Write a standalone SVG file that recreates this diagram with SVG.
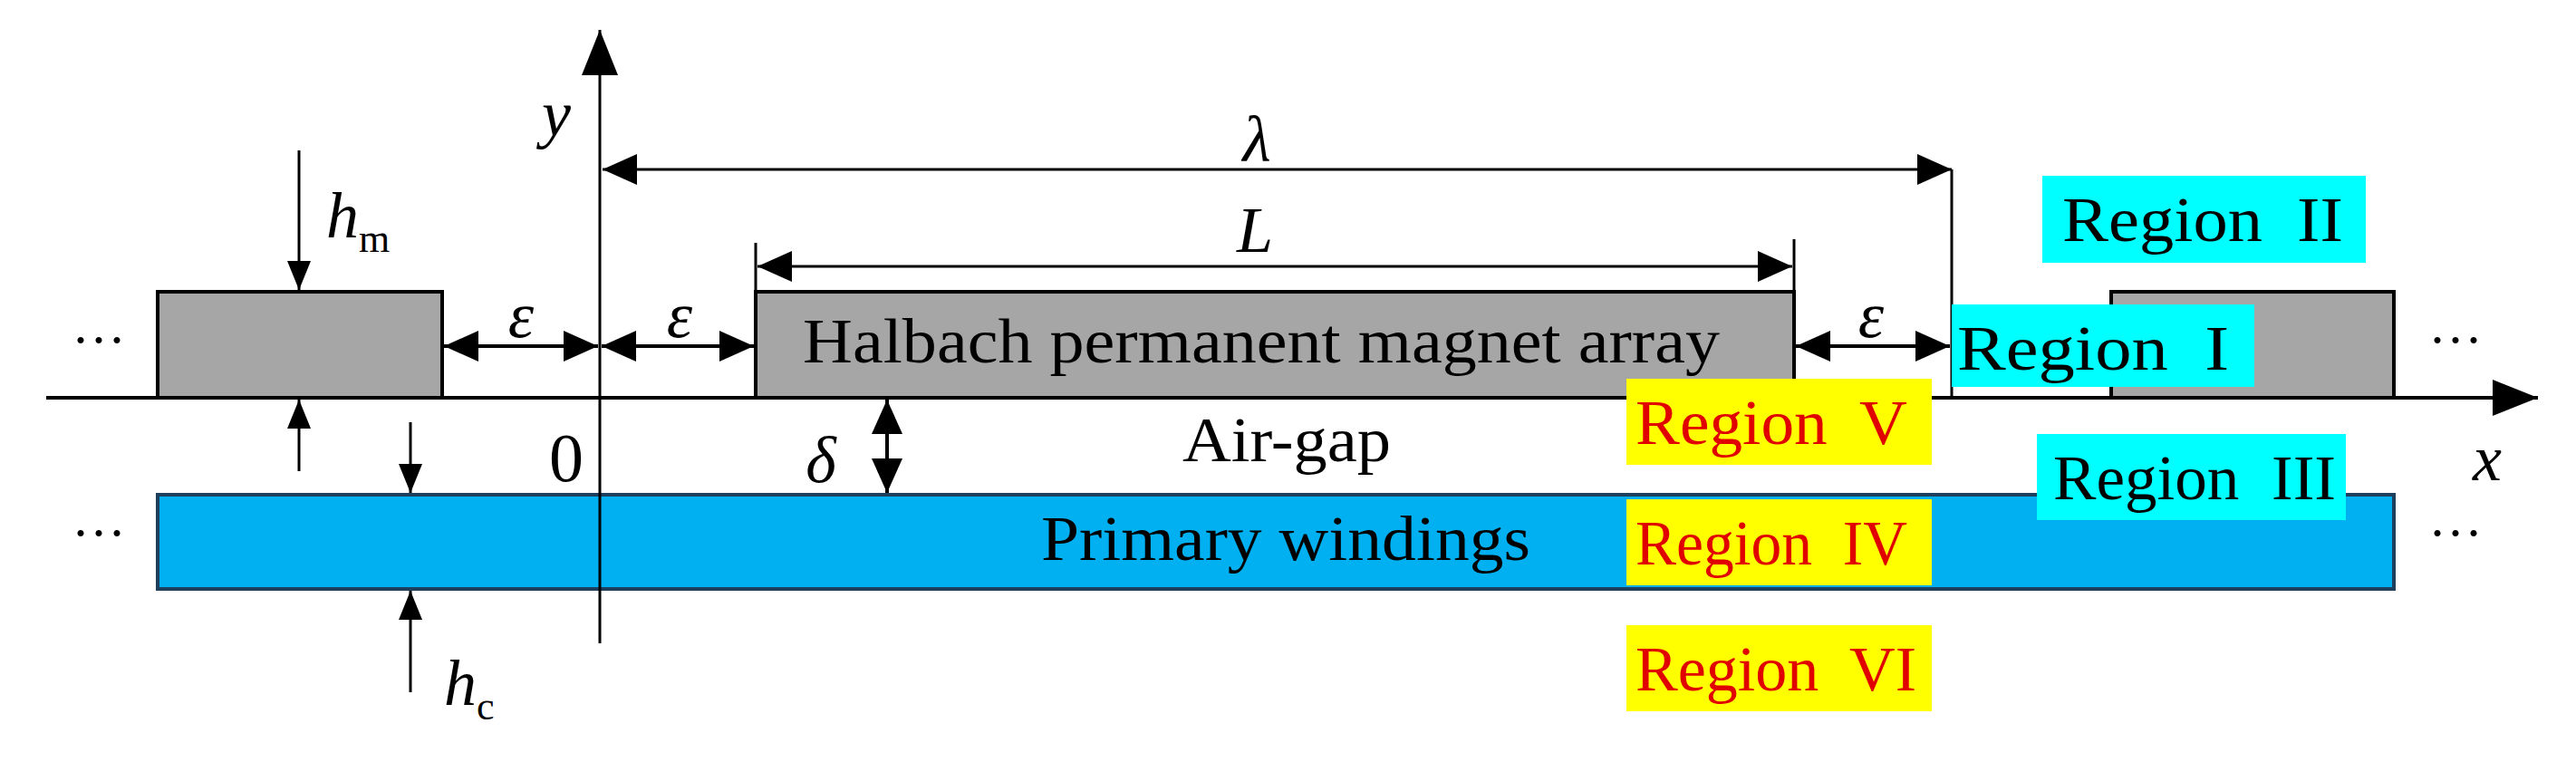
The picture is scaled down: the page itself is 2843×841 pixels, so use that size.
<svg xmlns="http://www.w3.org/2000/svg" width="2843" height="841" viewBox="0 0 2843 841">
<style>
.ln{stroke:#000;stroke-width:4;fill:none}
.thin{stroke:#000;stroke-width:3;fill:none}
.t{font-family:"Liberation Serif",serif;fill:#000}
.i{font-family:"Liberation Serif",serif;font-style:italic;fill:#000}
.rg{font-family:"Liberation Serif",serif;font-size:70px;fill:#000}
.rr{font-family:"Liberation Serif",serif;font-size:70px;fill:#e00000}
.cy{fill:#00ffff}
.ye{fill:#ffff00}
</style>
<defs>
<marker id="a" viewBox="0 0 38 34" refX="38" refY="17" markerWidth="38" markerHeight="34" markerUnits="userSpaceOnUse" orient="auto-start-reverse"><path d="M0,0 L38,17 L0,34 Z" fill="#000"/></marker>
<marker id="s" viewBox="0 0 32 26" refX="32" refY="13" markerWidth="32" markerHeight="26" markerUnits="userSpaceOnUse" orient="auto-start-reverse"><path d="M0,0 L32,13 L0,26 Z" fill="#000"/></marker>
<marker id="b" viewBox="0 0 50 40" refX="50" refY="20" markerWidth="50" markerHeight="40" markerUnits="userSpaceOnUse" orient="auto-start-reverse"><path d="M0,0 L50,20 L0,40 Z" fill="#000"/></marker>
</defs>
<rect width="2843" height="841" fill="#fff"/>
<g id="magnet-left"><rect x="174" y="322" width="314" height="117" fill="#a6a6a6" stroke="#000" stroke-width="4"/></g>
<g id="magnet-main"><rect x="834" y="322" width="1146" height="117" fill="#a6a6a6" stroke="#000" stroke-width="4"/>
<text class="t" x="886" y="400" font-size="70" textLength="1012" lengthAdjust="spacingAndGlyphs">Halbach permanent magnet array</text></g>
<g id="magnet-right"><rect x="2330" y="322" width="312" height="117" fill="#a6a6a6" stroke="#000" stroke-width="4"/></g>
<g id="windings"><rect x="174" y="546" width="2468" height="104" fill="#00b0f0" stroke="#1f3f5f" stroke-width="4"/>
<text class="t" x="1149" y="618" font-size="70" textLength="540" lengthAdjust="spacingAndGlyphs">Primary windings</text></g>
<g id="connectors">
<line class="ln" x1="51" y1="439" x2="2801" y2="439" marker-end="url(#b)"/>
<line class="thin" x1="662" y1="710" x2="662" y2="33" marker-end="url(#b)"/>
<line class="thin" x1="665" y1="187" x2="2154" y2="187" marker-start="url(#a)" marker-end="url(#a)"/>
<line class="thin" x1="2154" y1="187" x2="2154" y2="439"/>
<line class="thin" x1="834" y1="268" x2="834" y2="322"/>
<line class="thin" x1="1980" y1="264" x2="1980" y2="322"/>
<line class="thin" x1="836" y1="294" x2="1978" y2="294" marker-start="url(#a)" marker-end="url(#a)"/>
<line class="ln" x1="490" y1="382" x2="660" y2="382" marker-start="url(#a)" marker-end="url(#a)"/>
<line class="ln" x1="664" y1="382" x2="832" y2="382" marker-start="url(#a)" marker-end="url(#a)"/>
<line class="ln" x1="1982" y1="382" x2="2152" y2="382" marker-start="url(#a)" marker-end="url(#a)"/>
<line class="thin" x1="330" y1="166" x2="330" y2="320" marker-end="url(#s)"/>
<line class="thin" x1="330" y1="520" x2="330" y2="441" marker-end="url(#s)"/>
<line class="thin" x1="453" y1="466" x2="453" y2="544" marker-end="url(#s)"/>
<line class="thin" x1="453" y1="764" x2="453" y2="652" marker-end="url(#s)"/>
<line class="ln" x1="979" y1="441" x2="979" y2="544" marker-start="url(#a)" marker-end="url(#a)"/>
</g>
<g id="labels">
<text class="i" x="598" y="150" font-size="72">y</text>
<text class="i" x="1387" y="178" font-size="72" text-anchor="middle">λ</text>
<text class="i" x="1385" y="278" font-size="72" text-anchor="middle">L</text>
<text class="i" x="575" y="372" font-size="72" text-anchor="middle">ε</text>
<text class="i" x="750" y="372" font-size="72" text-anchor="middle">ε</text>
<text class="i" x="2065" y="372" font-size="72" text-anchor="middle">ε</text>
<text class="i" x="360" y="262" font-size="72">h</text>
<text class="t" x="396" y="278" font-size="44">m</text>
<text class="i" x="490" y="778" font-size="72">h</text>
<text class="t" x="526" y="794" font-size="44">c</text>
<text class="t" x="625" y="531" font-size="76" text-anchor="middle">0</text>
<text class="i" x="906" y="532" font-size="72" text-anchor="middle">δ</text>
<text class="t" x="1305" y="509" font-size="70" textLength="230" lengthAdjust="spacingAndGlyphs">Air-gap</text>
<text class="i" x="2745" y="530" font-size="72" text-anchor="middle">x</text>
<text class="t" x="109" y="395" font-size="60" text-anchor="middle">···</text>
<text class="t" x="109" y="608" font-size="60" text-anchor="middle">···</text>
<text class="t" x="2710" y="395" font-size="60" text-anchor="middle">···</text>
<text class="t" x="2710" y="608" font-size="60" text-anchor="middle">···</text>
</g>
<g id="region-II"><rect class="cy" x="2254" y="194" width="357" height="96"/><text class="rg" x="2276" y="266" textLength="310" lengthAdjust="spacingAndGlyphs" xml:space="preserve">Region  II</text></g>
<g id="region-I"><rect class="cy" x="2154" y="336" width="334" height="91"/><text class="rg" x="2160" y="408" textLength="300" lengthAdjust="spacingAndGlyphs" xml:space="preserve">Region  I</text></g>
<g id="region-III"><rect class="cy" x="2248" y="479" width="341" height="95"/><text class="rg" x="2266" y="551" textLength="312" lengthAdjust="spacingAndGlyphs" xml:space="preserve">Region  III</text></g>
<g id="region-V"><rect class="ye" x="1795" y="418" width="337" height="95"/><text class="rr" x="1805" y="490" textLength="300" lengthAdjust="spacingAndGlyphs" xml:space="preserve">Region  V</text></g>
<g id="region-IV"><rect class="ye" x="1795" y="551" width="337" height="95"/><text class="rr" x="1805" y="623" textLength="300" lengthAdjust="spacingAndGlyphs" xml:space="preserve">Region  IV</text></g>
<g id="region-VI"><rect class="ye" x="1795" y="690" width="337" height="95"/><text class="rr" x="1805" y="762" textLength="310" lengthAdjust="spacingAndGlyphs" xml:space="preserve">Region  VI</text></g>
</svg>
